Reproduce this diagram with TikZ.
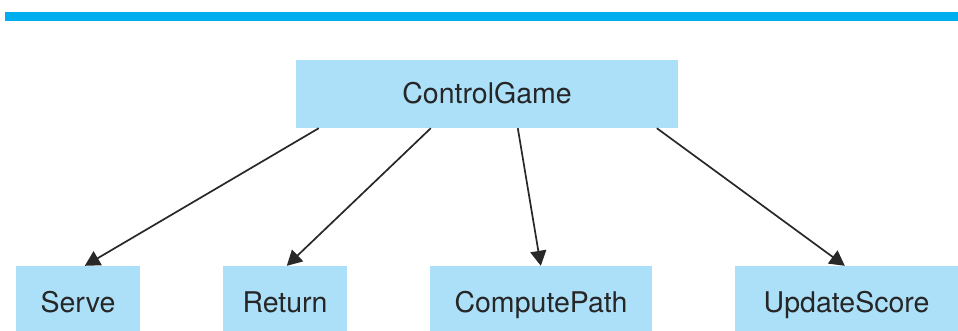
\documentclass[tikz,border=0pt]{standalone}
\usepackage{fontspec}
\setmainfont{TeX Gyre Heros}
\usetikzlibrary{arrows.meta,calc}
\definecolor{boxblue}{RGB}{172,224,249}
\definecolor{barblue}{RGB}{0,174,239}
\definecolor{linegray}{RGB}{40,40,40}
\tikzset{
  modbox/.style={fill=boxblue,draw=none,minimum height=65pt,inner sep=0pt,
    font=\fontsize{28.5pt}{31pt}\selectfont,text=black!85,text height=27pt,text depth=0pt},
  topbox/.style={fill=boxblue,draw=none,minimum height=68pt,minimum width=382pt,inner sep=0pt,
    font=\fontsize{28.5pt}{31pt}\selectfont,text=black!85,text height=20pt,text depth=0pt},
  link/.style={draw=linegray,line width=1.7pt,-{Triangle[length=15pt,width=16pt]}}
}
\begin{document}
\begin{tikzpicture}[x=1pt,y=-1pt]
\useasboundingbox (0,0) rectangle (958,331);
\fill[white] (0,0) rectangle (958,331);
\fill[barblue] (5,12) rectangle (958,21);
\node[topbox] (cg) at (487,94) {ControlGame};
\node[modbox,minimum width=124pt] (serve) at (78,298.5) {Serve};
\node[modbox,minimum width=124pt] (ret) at (285,298.5) {Return};
\node[modbox,minimum width=222pt] (cp) at (541,298.5) {ComputePath};
\node[modbox,minimum width=223pt] (us) at (846.5,298.5) {UpdateScore};
\draw[link] ($(cg.south west)+(23,0)$) -- ($(serve.north west)+(69,0)$);
\draw[link] ($(cg.south west)+(135,0)$) -- ($(ret.north west)+(64,0)$);
\draw[link] ($(cg.south west)+(222,0)$) -- ($(cp.north west)+(111,0)$);
\draw[link] ($(cg.south west)+(361,0)$) -- ($(us.north west)+(110,0)$);
\end{tikzpicture}
\end{document}
